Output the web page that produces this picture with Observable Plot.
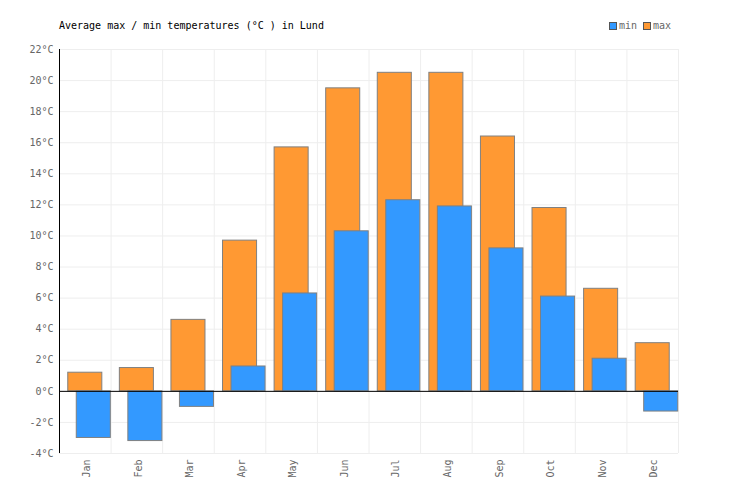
<!DOCTYPE html>
<html>
<head>
<meta charset="utf-8">
<script src="https://cdn.jsdelivr.net/npm/d3@7"></script>
<script src="https://cdn.jsdelivr.net/npm/@observablehq/plot@0.6"></script>
<style>
  body { margin: 0; background: white; font-family: "DejaVu Sans Mono", monospace; }
  #header { position: relative; width: 736px; height: 40px; }
  #title { position: absolute; left: 59px; top: 19px; font-size: 10px; line-height: 14px; color: #000; }
  #legend { position: absolute; left: 609px; top: 19px; font-size: 10px; line-height: 14px; color: #666; display: flex; align-items: center; }
  .sw { display: inline-block; width: 6px; height: 6px; border: 1px solid #555; margin-right: 2px; }
  .item { display: flex; align-items: center; margin-right: 6px; }
</style>
</head>
<body>
<div id="header">
  <div id="title">Average max / min temperatures (°C ) in Lund</div>
  <div id="legend">
    <span class="item"><span class="sw" style="background:#3399ff"></span>min</span>
    <span class="item"><span class="sw" style="background:#ff9933"></span>max</span>
  </div>
</div>
<div id="chart"></div>
<script>
const months = ["Jan","Feb","Mar","Apr","May","Jun","Jul","Aug","Sep","Oct","Nov","Dec"];
const maxTemps = [1.2, 1.5, 4.6, 9.7, 15.7, 19.5, 20.5, 20.5, 16.4, 11.8, 6.6, 3.1];
const minTemps = [-3.0, -3.2, -1.0, 1.6, 6.3, 10.3, 12.3, 11.9, 9.2, 6.1, 2.1, -1.3];
const yTicks = [-4, -2, 0, 2, 4, 6, 8, 10, 12, 14, 16, 18, 20, 22];

const data = months.map((m, i) => ({month: m, max: maxTemps[i], min: minTemps[i]}));
const W = 736, ML = 59, MR = 58;
const step = (W - ML - MR) / months.length;

const chart = Plot.plot({
  width: W,
  height: 460,
  marginTop: 9,
  marginBottom: 47,
  marginLeft: ML,
  marginRight: MR,
  style: {fontFamily: "DejaVu Sans Mono", fontSize: "10px", color: "#666", background: "white"},
  x: {domain: months, paddingInner: 0.34, paddingOuter: 0.17, align: 0.5, round: false, label: null},
  y: {domain: [-4, 22], ticks: yTicks, tickFormat: d => d + "°C", tickSize: 0, tickPadding: 6, label: null},
  marks: [
    Plot.ruleY(yTicks, {stroke: "#eeeeee"}),
    Plot.ruleX(months, {x: d => d, dx: -step / 2, stroke: "#eeeeee"}),
    Plot.ruleX(["Dec"], {x: d => d, dx: step / 2, stroke: "#eeeeee"}),
    Plot.barY(data, {x: "month", y: "max", fill: "#ff9933", stroke: "#808080"}),
    Plot.barY(data, {x: "month", y: "min", dx: 8.5, fill: "#3399ff", stroke: "#808080"}),
    Plot.ruleY([0], {stroke: "black"}),
    Plot.ruleX(["Jan"], {x: d => d, dx: -step / 2, stroke: "black"}),
    Plot.axisX({tickRotate: -90, tickSize: 0, tickPadding: 6, dx: 1.5, label: null})
  ]
});
document.getElementById("chart").appendChild(chart);
</script>
</body>
</html>
